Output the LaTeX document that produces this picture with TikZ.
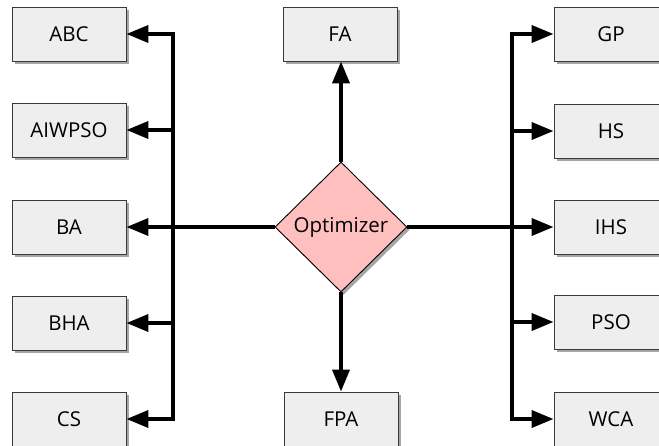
\documentclass[tikz,border=0pt]{standalone}
\usepackage{fontspec}
\setmainfont{Open Sans}
\usetikzlibrary{shapes.geometric,shadows,arrows.meta}
\definecolor{boxgray}{HTML}{EEEEEE}
\definecolor{boxline}{HTML}{3A3A3A}
\definecolor{optpink}{HTML}{FFBFBF}
\begin{document}
\begin{tikzpicture}[x=1pt,y=-1pt,
  box/.style={draw=boxline, line width=0.9pt, fill=boxgray,
    minimum width=114pt, minimum height=54pt, inner sep=0pt,
    font=\fontsize{20.5}{22}\selectfont,
    drop shadow={shadow xshift=2.5pt,shadow yshift=-3pt,opacity=0.35,fill=black}},
  optbox/.style={diamond, aspect=1, draw=black, line width=0.9pt, fill=optpink,
    minimum width=132pt, minimum height=130pt, inner sep=0pt,
    font=\fontsize{20.5}{22}\selectfont,
    drop shadow={shadow xshift=2.5pt,shadow yshift=-3pt,opacity=0.35,fill=black}},
  conn/.style={line width=3.8pt, line join=miter, -{Triangle[length=22pt,width=17pt]}}
]
\useasboundingbox (0,0) rectangle (659,446);
\clip (0,0) rectangle (659,446);
% left column
\node[box] (ABC)    at (69,34)  {ABC};
\node[box] (AIWPSO) at (69,130) {AIWPSO};
\node[box] (BA)     at (69,227) {BA};
\node[box] (BHA)    at (69,323) {BHA};
\node[box] (CS)     at (69,419) {CS};
% right column
\node[box] (GP)  at (611,34)  {GP};
\node[box] (HS)  at (611,131) {HS};
\node[box] (IHS) at (611,227) {IHS};
\node[box] (PSO) at (611,322) {PSO};
\node[box] (WCA) at (611,419) {WCA};
% middle column
\node[box] (FA)  at (340,34)  {FA};
\node[box] (FPA) at (341,419) {FPA};
\node[optbox] (opt) at (341,227) {Optimizer};
% junctions
\coordinate (jl) at (173,227);
\coordinate (jr) at (512,227);
% connectors
\draw[conn] (opt.west) -- (BA.east);
\foreach \n in {ABC,AIWPSO,BHA,CS} \draw[conn] (jl) |- (\n.east);
\draw[conn] (opt.east) -- (IHS.west);
\foreach \n in {GP,HS,PSO,WCA} \draw[conn] (jr) |- (\n.west);
\draw[conn] (opt.north) -- (opt.north |- FA.south);
\draw[conn] (opt.south) -- (opt.south |- FPA.north);
\end{tikzpicture}
\end{document}
